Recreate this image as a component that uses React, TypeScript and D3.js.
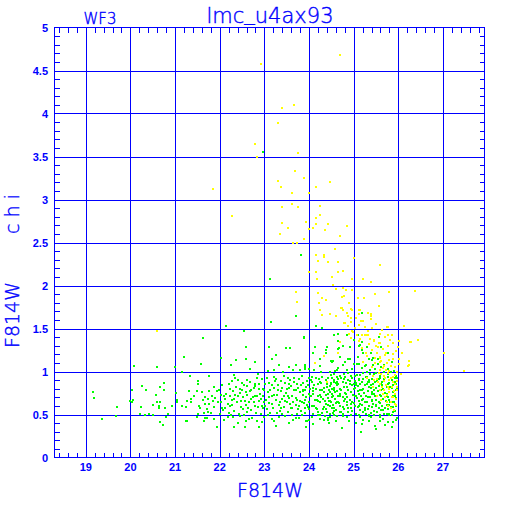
import React, { useRef, useEffect } from 'react';
import * as d3 from 'd3';

const xTicks = [19, 20, 21, 22, 23, 24, 25, 26, 27];
const yTicks = [0, 0.5, 1, 1.5, 2, 2.5, 3, 3.5, 4, 4.5, 5];
const yTickLabels = ['0', '0.5', '1', '1.5', '2', '2.5', '3', '3.5', '4', '4.5', '5'];

// F814W magnitude vs chi, stars with chi above the cut
const yellowPoints: [number, number][] = [
  [24.70, 4.68], [22.92, 4.57], [23.40, 4.06], [23.66, 4.10], [23.30, 3.89], [22.78, 3.64], [22.84, 3.50],
  [23.76, 3.54], [23.68, 3.33], [23.88, 3.25], [23.30, 3.21], [23.38, 3.15], [24.48, 3.20], [24.16, 3.14],
  [21.86, 3.12], [22.28, 2.81], [27.03, 1.22], [27.48, 1.01],
  [23.63, 3.07], [24.01, 3.07], [23.40, 2.91], [23.63, 2.95], [23.76, 2.91], [24.25, 2.93], [24.25, 2.82],
  [24.16, 2.78], [23.94, 2.74], [23.40, 2.73], [24.42, 2.72], [24.15, 2.71], [24.09, 2.67], [24.01, 2.66],
  [23.54, 2.67], [24.84, 2.69], [24.36, 2.64], [23.34, 2.60], [24.69, 2.57], [23.88, 2.54], [23.64, 2.50],
  [23.72, 2.49], [24.58, 2.43], [24.16, 2.36], [24.34, 2.36], [24.33, 2.33], [25.00, 2.32], [24.19, 2.29],
  [24.42, 2.27], [24.64, 2.27], [25.59, 2.24], [23.99, 2.16], [24.16, 2.16], [24.66, 2.16], [24.76, 2.17],
  [24.52, 2.10], [24.18, 2.08], [24.96, 2.07], [25.20, 2.07], [25.38, 2.04], [24.54, 2.01], [24.60, 1.96],
  [24.82, 1.95], [24.75, 1.97], [24.97, 1.95], [23.70, 1.93], [24.21, 1.91], [24.28, 1.86], [24.39, 1.83],
  [24.73, 1.87], [24.79, 1.88], [25.09, 1.86], [25.24, 1.86], [25.47, 1.90], [25.80, 1.92], [26.37, 1.94],
  [23.72, 1.81], [24.22, 1.80], [24.90, 1.80], [24.73, 1.74], [24.76, 1.72], [24.94, 1.73], [25.56, 1.76],
  [24.25, 1.71], [25.14, 1.71], [25.32, 1.68], [24.30, 1.66], [24.46, 1.67], [24.61, 1.65], [24.87, 1.64],
  [24.94, 1.62], [25.11, 1.67], [25.38, 1.65], [25.38, 1.61],
  [24.81, 1.56], [24.87, 1.53], [24.94, 1.57], [25.12, 1.54], [25.22, 1.59], [25.40, 1.51], [25.76, 1.52],
  [26.13, 1.53], [24.90, 1.44], [24.97, 1.47], [25.07, 1.43], [25.18, 1.43], [25.25, 1.43], [25.31, 1.43],
  [25.59, 1.44], [25.86, 1.43], [24.70, 1.34], [25.36, 1.38], [25.46, 1.36], [25.49, 1.30], [25.59, 1.33],
  [25.89, 1.33], [26.02, 1.36], [26.26, 1.34], [26.45, 1.37], [24.66, 1.22], [25.19, 1.27], [25.52, 1.22],
  [25.59, 1.17], [25.70, 1.19], [25.79, 1.13], [26.01, 1.15], [26.23, 1.12], [26.01, 1.09], [25.30, 1.18],
  [25.21, 1.11], [25.47, 1.10], [25.58, 1.11], [25.67, 1.06], [25.83, 1.06], [25.93, 1.05], [25.59, 1.02],
  [25.73, 1.02], [26.24, 1.07],
  [25.43, 0.95], [25.52, 0.91], [25.67, 0.95], [25.79, 0.90], [25.89, 0.94], [25.96, 0.89], [25.59, 0.86],
  [25.73, 0.84], [25.86, 0.82], [25.96, 0.82], [25.67, 0.78], [25.79, 0.76], [25.93, 0.74], [25.52, 0.72],
  [25.70, 0.70], [25.87, 0.70], [25.83, 0.64], [25.93, 0.62], [25.84, 0.57], [25.44, 0.82], [25.30, 0.92],
  [24.34, 1.18], [24.13, 1.10], [24.41, 0.88], [20.59, 1.47],
  [24.72, 1.74], [24.96, 1.72], [25.12, 1.71], [25.39, 1.67], [24.79, 1.56], [25.17, 1.59], [26.13, 1.53],
  [25.75, 1.52], [24.99, 1.46], [25.29, 1.43], [25.45, 1.37], [25.77, 1.42], [25.89, 1.33], [25.99, 1.29],
  [26.28, 1.34], [25.11, 1.35], [25.57, 1.33], [25.42, 1.25], [25.72, 1.21], [25.87, 1.20], [25.60, 1.16],
  [25.62, 1.12], [26.22, 1.06],
  [25.66, 1.04], [25.80, 1.01], [25.93, 0.96], [25.57, 0.98], [25.45, 0.90], [25.71, 0.93], [25.89, 0.88],
  [25.77, 0.82], [25.96, 0.79], [25.66, 0.74], [25.86, 0.70], [25.74, 0.64], [25.95, 0.61], [25.59, 0.79],
  [25.50, 1.55], [25.63, 1.48], [25.70, 1.40], [25.82, 1.37], [25.55, 1.28], [25.66, 1.26], [25.78, 1.30],
  [25.95, 1.24], [25.48, 1.16], [25.74, 1.10], [25.88, 1.14], [25.97, 1.00], [25.62, 0.97], [25.76, 0.98],
  [25.84, 0.92], [25.55, 0.88], [25.68, 0.89], [25.92, 0.85], [25.64, 0.82], [25.80, 0.80], [25.90, 0.77],
  [25.74, 0.73], [25.95, 0.68], [25.62, 0.67], [25.78, 0.60], [25.90, 0.55], [25.35, 1.32], [25.28, 1.22],
  [25.40, 1.05], [26.08, 1.22], [26.05, 0.97],
  [24.85, 1.68], [25.05, 1.62], [25.25, 1.52], [25.02, 1.51], [25.33, 1.47], [24.95, 1.39], [25.15, 1.38]
];

// stars below the chi cut
const greenPoints: [number, number][] = [
  [22.96, 3.55], [23.81, 2.36], [23.12, 2.07], [25.18, 1.68], [23.70, 1.64],
  [24.56, 1.43], [24.85, 1.43], [25.18, 1.34], [24.67, 1.27], [25.15, 1.31], [25.22, 1.21], [25.09, 1.17],
  [25.34, 1.15], [24.54, 1.12], [24.81, 1.11], [24.91, 1.14], [25.12, 1.09], [25.27, 1.07], [25.44, 1.07],
  [24.97, 1.03], [25.19, 1.04], [25.36, 1.02], [24.63, 1.02],
  [24.56, 0.97], [24.70, 0.95], [24.87, 0.98], [25.07, 0.96], [25.22, 0.98], [25.37, 0.97], [25.50, 0.98],
  [25.68, 0.99], [25.84, 0.99], [24.51, 0.92], [24.64, 0.91], [24.81, 0.94], [24.97, 0.92], [25.12, 0.91],
  [25.27, 0.94], [25.40, 0.91], [25.59, 0.92], [25.76, 0.94], [25.95, 0.95], [24.57, 0.88], [24.75, 0.88],
  [24.91, 0.89], [25.06, 0.87], [25.19, 0.88], [25.34, 0.88], [25.47, 0.88], [25.64, 0.88], [25.80, 0.87],
  [25.92, 0.88], [24.48, 0.83], [24.63, 0.84], [24.79, 0.82], [24.96, 0.84], [25.10, 0.83], [25.25, 0.84],
  [25.39, 0.84], [25.56, 0.83], [25.74, 0.82], [25.89, 0.84], [24.56, 0.78], [24.72, 0.79], [24.87, 0.78],
  [25.01, 0.80], [25.18, 0.78], [25.31, 0.77], [25.46, 0.78], [25.61, 0.79], [25.79, 0.80], [25.95, 0.78],
  [24.51, 0.74], [24.66, 0.72], [24.82, 0.74], [24.99, 0.73], [25.13, 0.74], [25.28, 0.72], [25.41, 0.74],
  [25.58, 0.73], [25.74, 0.74], [25.89, 0.72], [24.59, 0.68], [24.75, 0.70], [24.91, 0.67], [25.07, 0.69],
  [25.22, 0.68], [25.36, 0.70], [25.50, 0.67], [25.65, 0.68], [25.80, 0.67], [25.95, 0.69], [24.50, 0.64],
  [24.67, 0.63], [24.84, 0.64], [25.00, 0.63], [25.15, 0.62], [25.30, 0.64], [25.44, 0.62], [25.59, 0.63],
  [25.74, 0.61], [25.90, 0.64], [24.57, 0.58], [24.76, 0.59], [24.93, 0.57], [25.10, 0.59], [25.25, 0.57],
  [25.40, 0.59], [25.56, 0.57], [25.71, 0.58], [25.84, 0.59], [24.53, 0.52], [24.70, 0.53], [24.88, 0.53],
  [25.06, 0.51], [25.22, 0.53], [25.39, 0.52], [25.52, 0.53], [25.67, 0.51], [25.89, 0.53], [24.63, 0.48],
  [24.84, 0.47], [25.15, 0.47], [25.34, 0.48], [25.59, 0.47], [25.79, 0.49], [25.96, 0.46],
  [25.03, 0.95], [25.11, 0.90], [25.05, 0.84], [25.15, 0.78], [25.06, 0.71], [25.18, 0.67], [25.12, 0.60],
  [25.26, 0.55], [25.33, 0.88], [25.39, 0.81], [25.45, 0.74], [25.42, 0.67], [25.51, 0.60], [25.57, 0.91],
  [25.63, 0.84], [25.69, 0.78], [25.75, 0.71], [25.81, 0.64], [25.86, 0.81], [25.92, 0.88], [25.93, 0.72],
  [25.89, 0.59], [25.66, 0.55], [25.35, 0.50], [25.21, 0.44], [25.39, 0.47], [25.65, 0.45], [25.80, 0.51],
  [24.06, 0.94], [24.24, 0.88], [24.42, 0.93], [24.61, 0.87], [24.79, 0.91], [24.91, 0.85], [24.09, 0.81],
  [24.33, 0.76], [24.51, 0.80], [24.70, 0.74], [24.87, 0.78], [24.03, 0.71], [24.21, 0.66], [24.43, 0.69],
  [24.63, 0.64], [24.81, 0.68], [24.94, 0.62], [24.12, 0.60], [24.31, 0.56], [24.52, 0.58], [24.72, 0.53],
  [24.88, 0.57], [23.87, 0.77], [23.84, 0.64], [23.90, 0.57], [24.24, 0.49], [24.46, 0.47], [24.76, 0.48],
  [23.88, 1.40], [24.13, 1.29], [24.40, 1.29], [24.55, 1.43], [24.66, 1.35], [24.75, 1.30], [24.91, 1.28],
  [25.00, 1.37], [25.09, 1.42], [25.12, 1.30], [25.18, 1.25], [25.29, 1.29], [25.38, 1.21], [25.44, 1.16],
  [25.56, 1.40], [25.62, 1.29], [25.77, 1.22], [24.10, 1.22], [24.37, 1.25], [24.69, 1.17], [24.88, 1.14],
  [25.08, 1.09], [25.26, 1.06], [25.54, 1.09], [25.69, 1.07], [24.24, 1.15], [24.51, 1.11], [23.91, 1.08],
  [24.01, 1.03], [24.64, 1.04], [24.85, 1.02],
  [24.74, 0.34], [25.18, 0.39], [25.16, 0.30], [25.48, 0.37], [25.60, 0.43], [25.76, 0.41], [25.89, 0.41],
  [23.95, 0.42], [24.33, 0.44],
  [22.15, 1.53], [23.14, 1.57], [24.15, 1.53], [24.28, 1.51], [21.63, 1.39], [22.55, 1.47], [23.88, 1.39],
  [24.55, 1.43], [24.66, 1.44], [22.59, 1.29], [23.10, 1.29], [23.48, 1.27], [23.57, 1.27], [24.41, 1.29],
  [24.64, 1.26], [24.37, 1.22], [24.09, 1.22], [23.26, 1.19], [22.03, 1.16], [22.58, 1.15], [23.17, 1.14],
  [22.37, 1.13], [22.79, 1.11], [22.25, 1.08], [21.59, 1.09], [23.33, 1.08], [23.56, 1.05], [23.70, 1.07],
  [23.90, 1.05], [24.50, 1.12], [24.24, 1.06], [22.68, 1.03], [22.31, 0.96], [23.08, 1.01], [23.21, 1.02],
  [23.42, 0.99], [23.64, 1.02], [23.79, 1.02], [23.90, 1.03], [24.12, 1.02], [24.27, 0.99], [24.46, 0.99],
  [24.59, 1.01], [21.76, 0.95], [22.83, 0.93], [23.21, 0.94], [23.53, 0.92], [23.78, 0.91], [24.01, 0.93],
  [24.16, 0.93], [22.27, 0.89], [22.49, 0.87], [22.67, 0.88], [22.87, 0.86], [23.11, 0.87], [23.24, 0.89],
  [23.47, 0.87], [23.67, 0.88], [23.87, 0.87], [24.07, 0.88], [24.27, 0.87], [24.49, 0.87], [24.62, 0.88],
  [21.87, 0.82], [22.06, 0.84], [22.36, 0.82], [22.61, 0.83], [22.76, 0.81], [22.98, 0.80], [23.21, 0.81],
  [23.39, 0.81], [23.60, 0.83], [23.76, 0.81], [23.93, 0.82], [24.16, 0.80], [24.33, 0.81], [24.53, 0.80],
  [21.61, 0.76], [21.75, 0.77], [21.94, 0.77], [22.15, 0.74], [22.30, 0.77], [22.46, 0.75], [22.67, 0.77],
  [22.90, 0.74], [23.08, 0.76], [23.29, 0.73], [23.48, 0.75], [23.66, 0.78], [23.79, 0.76], [23.99, 0.74],
  [24.09, 0.77], [24.24, 0.73], [24.43, 0.74], [24.58, 0.76], [21.67, 0.70], [21.90, 0.69], [22.09, 0.71],
  [22.31, 0.68], [22.53, 0.70], [22.71, 0.68], [22.84, 0.71], [23.04, 0.67], [23.16, 0.71], [23.39, 0.68],
  [23.56, 0.69], [23.73, 0.67], [23.94, 0.70], [24.13, 0.67], [24.31, 0.68], [24.52, 0.70], [21.76, 0.62],
  [21.96, 0.64], [22.19, 0.62], [22.39, 0.64], [22.59, 0.61], [22.76, 0.64], [22.95, 0.60], [23.11, 0.63],
  [23.32, 0.61], [23.51, 0.64], [23.70, 0.61], [23.88, 0.63], [24.07, 0.60], [24.25, 0.64], [24.43, 0.61],
  [24.61, 0.63], [21.72, 0.56], [22.12, 0.57], [22.31, 0.54], [22.70, 0.55], [23.05, 0.56], [23.35, 0.54],
  [23.60, 0.57], [23.82, 0.54], [24.01, 0.56], [24.21, 0.53], [24.39, 0.56], [24.56, 0.54], [21.66, 0.46],
  [21.88, 0.45], [22.09, 0.44], [22.30, 0.47], [22.58, 0.43], [22.84, 0.43], [23.17, 0.45], [23.32, 0.47],
  [23.64, 0.44], [23.94, 0.43], [24.24, 0.45], [24.43, 0.44], [21.93, 0.35], [22.31, 0.36], [22.56, 0.36],
  [22.89, 0.36], [23.27, 0.37], [23.93, 0.36],
  [21.21, 1.17], [20.08, 1.06], [20.59, 1.05], [20.99, 1.05], [21.16, 0.99], [21.33, 0.95], [19.16, 0.76],
  [19.19, 0.69], [20.04, 0.78], [20.26, 0.83], [20.35, 0.78], [20.67, 0.82], [20.76, 0.87], [20.76, 0.79],
  [20.57, 0.73], [19.98, 0.66], [20.04, 0.65], [20.05, 0.67], [20.59, 0.65], [20.67, 0.64], [20.64, 0.60],
  [20.78, 0.58], [20.63, 0.57], [20.50, 0.61], [20.23, 0.59], [20.94, 0.60], [21.01, 0.75], [21.04, 0.67],
  [21.05, 0.64], [21.15, 0.60], [21.25, 0.59], [21.31, 0.77], [21.36, 0.68], [21.43, 0.71], [21.36, 0.64],
  [21.27, 0.66], [21.52, 0.89], [21.52, 0.86], [21.50, 0.77], [19.70, 0.59], [20.21, 0.51], [20.32, 0.50],
  [20.41, 0.51], [20.50, 0.50], [20.84, 0.51], [19.68, 0.48], [19.37, 0.45], [20.79, 0.47], [20.67, 0.41],
  [20.72, 0.38], [21.27, 0.43], [21.24, 0.42], [21.52, 0.51], [21.49, 0.47], [21.64, 0.52], [21.64, 0.42],
  [21.71, 0.46], [21.73, 0.53], [21.55, 0.57], [21.53, 0.60], [21.67, 0.62], [21.63, 0.67], [21.73, 0.68],
  [21.61, 0.76],
  // denser core, 24.5 - 26 mag
  [24.50, 0.96], [24.62, 0.94], [24.78, 0.97], [24.93, 0.95], [25.15, 0.96], [25.30, 0.94], [25.45, 0.97],
  [25.60, 0.95], [25.76, 0.97], [25.92, 0.93], [24.55, 0.90], [24.72, 0.92], [24.88, 0.90], [25.03, 0.89],
  [25.20, 0.91], [25.35, 0.90], [25.52, 0.89], [25.68, 0.91], [25.85, 0.90], [25.98, 0.92], [24.49, 0.86],
  [24.66, 0.85], [24.83, 0.87], [25.00, 0.86], [25.14, 0.85], [25.29, 0.86], [25.44, 0.85], [25.61, 0.86],
  [25.77, 0.85], [25.94, 0.86], [24.55, 0.81], [24.70, 0.80], [24.86, 0.82], [25.04, 0.81], [25.21, 0.80],
  [25.35, 0.82], [25.50, 0.81], [25.66, 0.80], [25.82, 0.82], [25.97, 0.81], [24.48, 0.76], [24.63, 0.77],
  [24.80, 0.75], [24.95, 0.76], [25.09, 0.77], [25.24, 0.75], [25.40, 0.76], [25.55, 0.77], [25.71, 0.75],
  [25.87, 0.76], [24.54, 0.71], [24.70, 0.72], [24.86, 0.70], [25.03, 0.71], [25.17, 0.72], [25.33, 0.70],
  [25.47, 0.71], [25.62, 0.72], [25.78, 0.70], [25.93, 0.71], [24.47, 0.66], [24.64, 0.65], [24.79, 0.66],
  [24.96, 0.65], [25.11, 0.66], [25.26, 0.65], [25.42, 0.66], [25.57, 0.65], [25.73, 0.66], [25.88, 0.65],
  [24.53, 0.61], [24.69, 0.60], [24.86, 0.61], [25.02, 0.60], [25.19, 0.61], [25.34, 0.60], [25.49, 0.61],
  [25.64, 0.60], [25.79, 0.61], [25.95, 0.60], [24.61, 0.55], [24.79, 0.56], [24.97, 0.54], [25.14, 0.55],
  [25.31, 0.56], [25.46, 0.54], [25.62, 0.55], [25.77, 0.56], [25.92, 0.54], [24.57, 0.50], [24.76, 0.51],
  [24.95, 0.49], [25.12, 0.50], [25.28, 0.51], [25.45, 0.49], [25.60, 0.50], [25.74, 0.51], [25.86, 0.49],
  [25.48, 1.03], [25.62, 1.05], [25.78, 1.03], [25.90, 1.01], [25.40, 1.13], [25.55, 1.15], [25.85, 1.11],
  [25.30, 1.00], [25.00, 1.09], [24.75, 1.07], [24.60, 0.42], [24.90, 0.43], [25.05, 0.40], [25.35, 0.42],
  [25.70, 0.38], [25.85, 0.35], [25.95, 0.44], [24.45, 0.40], [25.50, 0.33],
  // main band, 21.8 - 24.5 mag
  [22.42, 0.90], [22.95, 0.91], [23.37, 0.89], [23.58, 0.90], [23.96, 0.89], [24.22, 0.91], [24.38, 0.90],
  [22.20, 0.85], [22.55, 0.84], [22.78, 0.86], [23.02, 0.85], [23.31, 0.84], [23.55, 0.86], [23.74, 0.85],
  [23.97, 0.84], [24.20, 0.86], [24.40, 0.85], [21.98, 0.79], [22.22, 0.80], [22.50, 0.78], [22.70, 0.79],
  [22.88, 0.80], [23.13, 0.78], [23.30, 0.79], [23.50, 0.80], [23.70, 0.78], [23.86, 0.79], [24.02, 0.80],
  [24.25, 0.78], [24.45, 0.79], [21.82, 0.72], [22.02, 0.73], [22.24, 0.72], [22.40, 0.71], [22.60, 0.73],
  [22.78, 0.72], [22.96, 0.71], [23.22, 0.73], [23.44, 0.72], [23.62, 0.71], [23.86, 0.73], [24.05, 0.72],
  [24.20, 0.71], [24.38, 0.73], [21.85, 0.66], [22.04, 0.65], [22.27, 0.67], [22.48, 0.66], [22.65, 0.65],
  [22.88, 0.66], [23.00, 0.65], [23.25, 0.67], [23.47, 0.66], [23.64, 0.65], [23.80, 0.66], [24.00, 0.65],
  [24.18, 0.67], [24.36, 0.66], [21.88, 0.59], [22.05, 0.58], [22.22, 0.60], [22.48, 0.59], [22.64, 0.58],
  [22.85, 0.59], [23.02, 0.60], [23.20, 0.58], [23.43, 0.59], [23.62, 0.58], [23.78, 0.60], [23.97, 0.59],
  [24.15, 0.58], [24.33, 0.59], [24.47, 0.60], [21.80, 0.52], [22.00, 0.51], [22.20, 0.52], [22.44, 0.51],
  [22.62, 0.53], [22.93, 0.51], [23.12, 0.52], [23.40, 0.51], [23.52, 0.53], [23.72, 0.51], [23.90, 0.52],
  [24.10, 0.51], [24.30, 0.52], [24.48, 0.51], [22.18, 0.47], [22.46, 0.48], [22.72, 0.46], [23.00, 0.47],
  [23.46, 0.48], [23.78, 0.46], [24.06, 0.47], [24.35, 0.48], [22.40, 0.40], [22.95, 0.41], [23.55, 0.40],
  [24.10, 0.39],
  [22.35, 0.93], [22.62, 0.90], [22.85, 0.97], [23.05, 0.93], [23.25, 0.91], [23.45, 0.95], [23.66, 0.93],
  [23.85, 0.95], [24.05, 0.90], [24.30, 0.94], [22.45, 0.80], [22.58, 0.76], [22.80, 0.83], [23.00, 0.78],
  [23.18, 0.84], [23.38, 0.77], [23.56, 0.81], [23.82, 0.84], [23.92, 0.78], [24.12, 0.84], [24.30, 0.79],
  [24.40, 0.82], [22.12, 0.68], [22.35, 0.73], [22.56, 0.66], [22.74, 0.70], [22.92, 0.68], [23.10, 0.70],
  [23.34, 0.65], [23.52, 0.72], [23.70, 0.69], [23.90, 0.67], [24.10, 0.74], [24.27, 0.70], [24.44, 0.66],
  [22.08, 0.55], [22.28, 0.61], [22.52, 0.56], [22.78, 0.60], [22.98, 0.57], [23.18, 0.62], [23.38, 0.58],
  [23.58, 0.62], [23.75, 0.56], [23.95, 0.61], [24.18, 0.56], [24.38, 0.62], [22.25, 0.50], [22.55, 0.49],
  [22.82, 0.52], [23.08, 0.49], [23.28, 0.52], [23.62, 0.50], [23.85, 0.49], [24.20, 0.50], [24.40, 0.53],
  [22.65, 0.45], [23.22, 0.42], [23.70, 0.46], [24.00, 0.44], [24.42, 0.46]
];

export default function App(): JSX.Element {
  const svgRef = useRef<SVGSVGElement>(null);

  useEffect(() => {
    if (svgRef.current == null) {
      return;
    }
    const svg = d3.select(svgRef.current);
    svg.selectAll('*').remove();

    const blue = '#0000ff';
    const left = 54.5;
    const right = 484.5;
    const top = 27.5;
    const bottom = 457.5;

    const x = d3.scaleLinear().domain([18.3, 27.93]).range([left, right]);
    const y = d3.scaleLinear().domain([0, 5]).range([bottom, top]);
    const px = (v: number) => Math.round(x(v)) + 0.5;
    const py = (v: number) => Math.round(y(v)) + 0.5;

    svg.append('rect').attr('width', 512).attr('height', 512).attr('fill', '#fff');

    const grid = svg.append('g').attr('stroke', blue).attr('stroke-width', 1).attr('shape-rendering', 'crispEdges');

    // vertical grid at each magnitude
    grid
      .selectAll('line.vx')
      .data(xTicks)
      .join('line')
      .attr('x1', (d) => px(d))
      .attr('x2', (d) => px(d))
      .attr('y1', top)
      .attr('y2', bottom);

    // horizontal grid at each 0.5 of chi
    grid
      .selectAll('line.hy')
      .data(yTicks.slice(1, -1))
      .join('line')
      .attr('x1', left)
      .attr('x2', right)
      .attr('y1', (d) => py(d))
      .attr('y2', (d) => py(d));

    // minor ticks, 0.2 mag on x and 0.1 on y, on all four sides
    const xMinor = d3.range(18.4, 27.9, 0.2).filter((v) => Math.abs(v - Math.round(v)) > 0.05);
    const yMinor = d3.range(0.1, 5, 0.1).filter((v) => Math.abs(v * 2 - Math.round(v * 2)) > 0.05);
    const tickLen = 5;
    grid
      .selectAll('line.xb')
      .data(xMinor)
      .join('line')
      .attr('x1', (d) => px(d))
      .attr('x2', (d) => px(d))
      .attr('y1', bottom)
      .attr('y2', bottom - tickLen);
    grid
      .selectAll('line.xt')
      .data(xMinor)
      .join('line')
      .attr('x1', (d) => px(d))
      .attr('x2', (d) => px(d))
      .attr('y1', top)
      .attr('y2', top + tickLen);
    grid
      .selectAll('line.yl')
      .data(yMinor)
      .join('line')
      .attr('x1', left)
      .attr('x2', left + tickLen)
      .attr('y1', (d) => py(d))
      .attr('y2', (d) => py(d));
    grid
      .selectAll('line.yr')
      .data(yMinor)
      .join('line')
      .attr('x1', right)
      .attr('x2', right - tickLen)
      .attr('y1', (d) => py(d))
      .attr('y2', (d) => py(d));

    grid
      .append('rect')
      .attr('x', left)
      .attr('y', top)
      .attr('width', right - left)
      .attr('height', bottom - top)
      .attr('fill', 'none');

    // points
    const size = 2;
    svg
      .append('g')
      .selectAll('rect')
      .data(greenPoints)
      .join('rect')
      .attr('x', (d) => Math.round(x(d[0]) - size / 2))
      .attr('y', (d) => Math.round(y(d[1]) - size / 2))
      .attr('width', size)
      .attr('height', size)
      .attr('fill', '#00ff00');
    svg
      .append('g')
      .selectAll('rect')
      .data(yellowPoints)
      .join('rect')
      .attr('x', (d) => Math.round(x(d[0]) - size / 2))
      .attr('y', (d) => Math.round(y(d[1]) - size / 2))
      .attr('width', size)
      .attr('height', size)
      .attr('fill', '#ffff00');

    // tick labels
    svg
      .append('g')
      .selectAll('text')
      .data(xTicks)
      .join('text')
      .attr('x', (d) => x(d))
      .attr('y', 471)
      .attr('text-anchor', 'middle')
      .style('font-family', '"Liberation Sans", Arial, sans-serif')
      .style('font-weight', 'bold')
      .style('font-size', '11px')
      .attr('fill', blue)
      .text((d) => String(d));

    svg
      .append('g')
      .selectAll('text')
      .data(yTicks)
      .join('text')
      .attr('x', 48)
      .attr('y', (d) => y(d) + 4)
      .attr('text-anchor', 'end')
      .style('font-family', '"Liberation Sans", Arial, sans-serif')
      .style('font-weight', 'bold')
      .style('font-size', '11px')
      .attr('fill', blue)
      .text((d, i) => yTickLabels[i]);

    const labelFont = '"DejaVu Sans", sans-serif';
    const label = (sel: d3.Selection<SVGTextElement, unknown, null, undefined>, size: number) =>
      sel
        .style('font-family', labelFont)
        .style('font-weight', 200)
        .style('font-size', `${size}px`)
        .attr('fill', blue)
        .attr('stroke', blue)
        .attr('stroke-width', 0.4);

    const title = label(svg.append('text').attr('x', 270).attr('y', 23).attr('text-anchor', 'middle'), 21);
    title.append('tspan').text('lmc');
    title.append('tspan').attr('dy', -3).text('_');
    title.append('tspan').attr('dy', 3).text('u4ax93');

    label(svg.append('text').attr('x', 100).attr('y', 24).attr('text-anchor', 'middle'), 15).text('WF3');

    label(svg.append('text').attr('x', 270).attr('y', 497).attr('text-anchor', 'middle'), 19).text('F814W');

    // y title: the two words sit far apart in the original
    label(
      svg.append('text').attr('transform', 'translate(19, 315) rotate(-90)').attr('text-anchor', 'middle'),
      19
    ).text('F814W');
    label(
      svg.append('text').attr('transform', 'translate(19, 211) rotate(-90)').attr('text-anchor', 'middle'),
      19
    )
      .style('letter-spacing', '6px')
      .text('chi');
  }, []);

  return (
    <svg
      ref={svgRef}
      width={512}
      height={512}
      style={{ position: 'absolute', left: 0, top: 0, display: 'block' }}
    />
  );
}
